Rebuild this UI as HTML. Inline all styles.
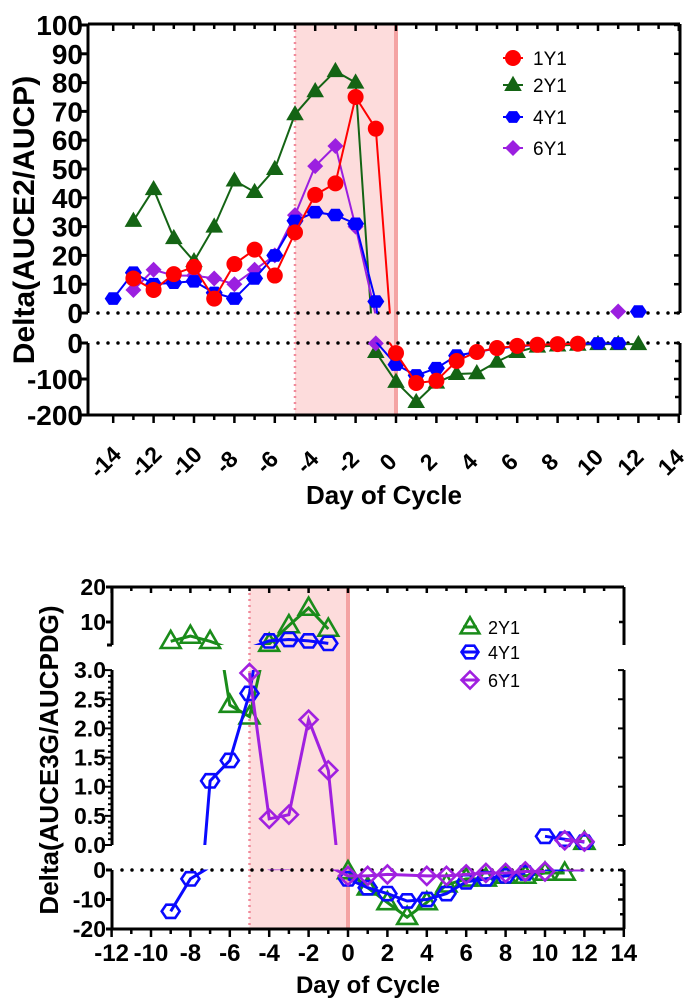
<!DOCTYPE html>
<html><head><meta charset="utf-8"><style>
html,body{margin:0;padding:0;background:#fff;overflow:hidden;width:693px;height:1004px;}
svg{display:block;font-family:"Liberation Sans",Arial,sans-serif;}
</style></head><body>
<svg id="chart" width="693" height="1004" viewBox="0 0 693 1004" xmlns="http://www.w3.org/2000/svg" overflow="hidden">
<defs>
<clipPath id="cTopU"><rect x="88" y="18" width="592" height="295.5"/></clipPath>
<clipPath id="cTopL"><rect x="88" y="342.5" width="592" height="80"/></clipPath>
<clipPath id="cBotT"><rect x="112" y="580" width="512" height="65"/></clipPath>
<clipPath id="cBotM"><rect x="112" y="670" width="512" height="175"/></clipPath>
<clipPath id="cBotL"><rect x="112" y="869.5" width="512" height="65"/></clipPath>
</defs>
<g id="g"></g>
</svg>
<script>
// ---------- top chart data (null = line break) ----------
const topDays1 = [-13,-12,-11,-10,-9,-8,-7,-6,-5,-4,-3,-2,-1,0,1,2,3,4,5,6,7,8,9];
const topVals1 = [12,8,13.5,16,5,17,22,13,28,41,45,75,64,-28,-111,-105,-50,-25,-14,-8,-5,-3,-2];
const topDays2 = [-13,-12,-11,-10,-9,-8,-7,-6,-5,-4,-3,-2,-1,0,1,2,3,4,5,6,7,8,9,10,11,12];
const topVals2 = [32,43,26,18,30,46,42,50,69,77,84,80,-25,-108,-164,-110,-86,-84,-52,-25,-10,-7,-5,-3,-3,-3];
const topDays4 = [-14,-13,-12,-11,-10,-9,-8,-7,-6,-5,-4,-3,-2,-1,0,1,2,3,4,5,6,7,8,9,10,11,11.5,12];
const topVals4 = [5,14,10,10.5,11,7,5,12,20,32,35,34,31,4,-60,-90,-70,-35,-25,-15,-10,-5,-3,-2,-1,-1,null,0.5];
const topDays6 = [-13,-12,-11,-10,-9,-8,-7,-6,-5,-4,-3,-2,-1,0.5,11];
const topVals6 = [8,15,13,13,12,10,15,20,34,51,58,30,-1,null,0.5];
const topUpperTicks = [0,10,20,30,40,50,60,70,80,90,100];
const topLowerTicks = [0,-100,-200];
const topXTicks = [-14,-12,-10,-8,-6,-4,-2,0,2,4,6,8,10,12,14];
// ---------- bottom chart data (null = line break) ----------
const botDays2 = [-9,-8,-7,-6,-5,-4,-3,-2,-1,-0.5,0,1,2,3,4,5,6,7,8,9,10,11,11.5,12];
const botVals2 = [4.5,6,4.5,2.4,2.2,3.7,9,14,8,null,-0.5,-6,-11,-16,-11,-5,-3,-3,-2,-2,-1,-1,null,0.05];
const botDays4 = [-9,-8,-7,-6,-5,-4,-3,-2,-1,-0.5,0,1,2,3,4,5,6,7,8,9,9.5,10,11,12];
const botVals4 = [-14,-3,1.1,1.45,2.6,4.6,5,4.6,3.9,null,-3,-6,-8,-10.5,-10,-8,-4,-3,-2,-1,null,0.15,0.1,0.05];
const botDays6 = [-5,-4,-3,-2,-1,0,1,2,4,5,6,7,8,9,10,10.5,11,12];
const botVals6 = [2.95,0.45,0.52,2.15,1.28,-2,-2,-1.5,-2,-2,-1.5,-1,-1,-0.5,-0.5,null,0.08,0.06];
const botTopTicks = [20,10];
const botMidTicks = [0,0.5,1,1.5,2,2.5,3];
const botLowTicks = [0,-10,-20];
const botXTicks = [-12,-10,-8,-6,-4,-2,0,2,4,6,8,10,12,14];

const NS='http://www.w3.org/2000/svg';
const root=document.getElementById('g');
function mk(tag,attrs,parent){const e=document.createElementNS(NS,tag);for(const k in attrs)e.setAttribute(k,attrs[k]);(parent||root).appendChild(e);return e;}
function txt(s,attrs,parent){const e=mk('text',attrs,parent);e.textContent=s;return e;}

const TX=d=>396+d*20.2;
const TYU=v=>313-v*2.88;
const TYL=v=>343-v*0.36;
const tL=88,tR=680;

let e=mk('rect',{x:TX(-5),y:24,width:TX(0)-TX(-5),height:391,fill:'#fddcdc'});

e=mk('line',{x1:TX(-5),y1:24,x2:TX(-5),y2:415,stroke:'#f08a9a','stroke-width':2.5,'stroke-dasharray':'2,4'});

e=mk('line',{x1:TX(0),y1:24,x2:TX(0),y2:415,stroke:'#f4a3a3','stroke-width':4});


function line(x1,y1,x2,y2,w,name){const l=mk('line',{x1,y1,x2,y2,stroke:'#000','stroke-width':w||3});return l;}
line(tL,24,tR,24,3,'top-frame-top');
line(tL,24,tL,313,3,'top-y-axis-upper');
line(tR,24,tR,313,3,'top-right-axis-upper');
line(tL,343,tL,415,3,'top-y-axis-lower');
line(tR,343,tR,415,3,'top-right-axis-lower');
line(tL,415,tR,415,3,'top-x-axis');
[313,343].forEach((y,i)=>{const l=mk('line',{x1:tL+10,y1:y,x2:tR,y2:y,stroke:'#000','stroke-width':3.5,'stroke-dasharray':'0,10','stroke-linecap':'round'});
});
for(let d=-14;d<=14;d++){const big=d%2===0;
 line(TX(d),415,TX(d),415+(big?8:5),2.5,'top-x-tick');
 line(TX(d),24,TX(d),24+(big?7:5),2.5,'top-top-tick');}
topXTicks.forEach(d=>{const t=txt(String(d),{x:0,y:0,'font-size':23,'font-weight':'bold','text-anchor':'middle','dominant-baseline':'central',transform:`translate(${TX(d)-8},${462}) rotate(-45)`});
 });
topUpperTicks.forEach(v=>{line(tL-7,TYU(v),tL,TYU(v),3,'top-y-tick');line(tR-6,TYU(v),tR,TYU(v),2.5,'top-right-tick');
 const t=txt(String(v),{x:83,y:TYU(v)+10,'font-size':28,'font-weight':'bold','text-anchor':'end'});});
topLowerTicks.forEach(v=>{line(tL-7,TYL(v),tL,TYL(v),3,'top-y-tick');line(tR-6,TYL(v),tR,TYL(v),2.5,'top-right-tick');
 const t=txt(String(v),{x:83,y:TYL(v)+10,'font-size':28,'font-weight':'bold','text-anchor':'end'});});
[-50,-150].forEach(v=>line(tR-5,TYL(v),tR,TYL(v),2.5,'top-right-minor-tick'));
e=txt('Delta(AUCE2/AUCP)',{x:0,y:0,'font-size':30,'font-weight':'bold','text-anchor':'middle',transform:'translate(34,220) rotate(-90)'});

e=txt('Day of Cycle',{x:384,y:504,'font-size':26,'font-weight':'bold','text-anchor':'middle'});


function marker(shape,x,y,col,r,open,parent){
 let el;
 const sw=open?2.6:0, fill=open?'none':col;
 if(shape==='circle') el=mk('circle',{cx:x,cy:y,r:r},parent);
 else if(shape==='tri') el=mk('polygon',{points:`${x},${y-r*1.15} ${x+r*1.1},${y+r*0.75} ${x-r*1.1},${y+r*0.75}`},parent);
 else if(shape==='hex'){let p=[];for(let i=0;i<6;i++){const a=Math.PI/3*i;p.push((x+r*Math.cos(a)).toFixed(1)+','+(y+r*0.85*Math.sin(a)).toFixed(1));}el=mk('polygon',{points:p.join(' ')},parent);}
 else el=mk('polygon',{points:`${x},${y-r} ${x+r},${y} ${x},${y+r} ${x-r},${y}`},parent);
 el.setAttribute('fill',fill);el.setAttribute('stroke',col);el.setAttribute('stroke-width',sw||0);
 return el;
}
function series(days,vals,panels,col,shape,r,open,lw,name){
 panels.forEach(p=>{
  const g=mk('g',{'clip-path':`url(#${p.clip})`});
  
  
  let runs=[],cur=[];
  days.forEach((d,i)=>{const v=vals[i];if(v===null){if(cur.length)runs.push(cur);cur=[];}else cur.push(p.X(d).toFixed(1)+','+p.Y(v).toFixed(1));});
  if(cur.length)runs.push(cur);
  runs.forEach(rn=>{if(rn.length<2)return;const pl=mk('polyline',{points:rn.join(' '),fill:'none',stroke:col,'stroke-width':lw},g);
   
   });
  const mg=mk('g',{});
  
  
  days.forEach((d,i)=>{const v=vals[i];if(v!==null&&v>=p.min&&v<=p.max){const m=marker(shape,p.X(d),p.Y(v),col,r,open,mg);
   
   }});
 });
}
const topPanels=[{id:'upper',clip:'cTopU',X:TX,Y:TYU,min:0,max:100},{id:'lower',clip:'cTopL',X:TX,Y:TYL,min:-200,max:0}];
const cRed='#ff0000',cGreen='#146414',cBlue='#0000ff',cPurple='#9b1fe0';
series(topDays2,topVals2,topPanels,cGreen,'tri',8,false,2,'series-2y1');
series(topDays6,topVals6,topPanels,cPurple,'dia',8,false,2,'series-6y1');
series(topDays4,topVals4,topPanels,cBlue,'hex',8.5,false,2,'series-4y1');
series(topDays1,topVals1,topPanels,cRed,'circle',8,false,2,'series-1y1');

const legTop=[['1Y1',cRed,'circle',58],['2Y1',cGreen,'tri',85],['4Y1',cBlue,'hex',117],['6Y1',cPurple,'dia',148]];
legTop.forEach(([lab,col,sh,y])=>{const g=mk('g',{});
 
 
 mk('line',{x1:503,y1:y,x2:523,y2:y,stroke:col,'stroke-width':2},g);
 marker(sh,513,y,col,8,false,g);
 txt(lab,{x:533,y:y+7,'font-size':19},g);});

const BX=d=>348+d*19.7;
const BYT=v=>587+(20-v)*3.5;
const BYM=v=>845-v*58.3;
const BYL=v=>870-v*2.95;
const bL=112,bR=624;
e=mk('rect',{x:BX(-5),y:587,width:BX(0)-BX(-5),height:342,fill:'#fddcdc'});

e=mk('line',{x1:BX(-5),y1:587,x2:BX(-5),y2:929,stroke:'#f08a9a','stroke-width':2.5,'stroke-dasharray':'2,4'});

e=mk('line',{x1:BX(0),y1:587,x2:BX(0),y2:929,stroke:'#f4a3a3','stroke-width':4});

line(bL,587,bR,587,3,'bottom-frame-top');
line(bL,587,bL,645,3,'bottom-y-axis-top');
line(bR,587,bR,645,3,'bottom-right-axis-top');
line(bL,670,bL,845,3,'bottom-y-axis-mid');
line(bR,670,bR,845,3,'bottom-right-axis-mid');
line(bL,870,bL,929,3,'bottom-y-axis-lower');
line(bR,870,bR,929,3,'bottom-right-axis-lower');
line(bL,929,bR,929,3,'bottom-x-axis');
e=mk('line',{x1:bL+10,y1:870,x2:bR,y2:870,stroke:'#000','stroke-width':3.5,'stroke-dasharray':'0,10','stroke-linecap':'round'});

for(let d=-12;d<=14;d++){const big=d%2===0;line(BX(d),929,BX(d),929+(big?8:5),2.5,'bottom-x-tick');line(BX(d),587,BX(d),587+(big?6:4),2.5,'bottom-top-tick');}
botXTicks.forEach(d=>{const t=txt(String(d),{x:BX(d),y:961,'font-size':24,'font-weight':'bold','text-anchor':'middle'});});
function ylab(v,y,s){const t=txt(s,{x:106,y:y+8,'font-size':23,'font-weight':'bold','text-anchor':'end'});}
botTopTicks.forEach(v=>{line(bL-6,BYT(v),bL,BYT(v),3,'bottom-y-tick');line(bR-5,BYT(v),bR,BYT(v),2.5,'bottom-right-tick');ylab(v,BYT(v),String(v));});
line(bL-5,645,bL,645,3,'bottom-y-tick');
for(let i=0;i<=30;i++){const v=i/10,y=BYM(v),big=i%5===0;line(bL-(big?7:4),y,bL,y,2,'bottom-y-minor-tick');if(big)line(bR-6,y,bR,y,2,'bottom-right-tick');}
botMidTicks.forEach(v=>ylab(v,BYM(v),v.toFixed(1)));
botLowTicks.forEach(v=>{line(bL-6,BYL(v),bL,BYL(v),3,'bottom-y-tick');line(bR-6,BYL(v),bR,BYL(v),2.5,'bottom-right-tick');ylab(v,BYL(v),String(v));});
[-5,-15].forEach(v=>line(bR-4,BYL(v),bR,BYL(v),2.5,'bottom-right-minor-tick'));
e=txt('Delta(AUCE3G/AUCPDG)',{x:0,y:0,'font-size':26,'font-weight':'bold','text-anchor':'middle',transform:'translate(58,760) rotate(-90)'});

e=txt('Day of Cycle',{x:368,y:993,'font-size':24,'font-weight':'bold','text-anchor':'middle'});


const botPanels=[{id:'top',clip:'cBotT',X:BX,Y:BYT,min:3.4,max:20},{id:'mid',clip:'cBotM',X:BX,Y:BYM,min:0,max:3},{id:'low',clip:'cBotL',X:BX,Y:BYL,min:-20,max:0}];
const bGreen='#1a8c1a',bBlue='#0a0aff',bPurple='#a020e0';
series(botDays2,botVals2,botPanels,bGreen,'tri',9,true,3,'bottom-series-2y1');
series(botDays4,botVals4,botPanels,bBlue,'hex',9,true,3,'bottom-series-4y1');
series(botDays6,botVals6,botPanels,bPurple,'dia',9,true,3,'bottom-series-6y1');

const legBot=[['2Y1',bGreen,'tri',627],['4Y1',bBlue,'hex',652],['6Y1',bPurple,'dia',680]];
legBot.forEach(([lab,col,sh,y])=>{const g=mk('g',{});
 
 
 mk('line',{x1:463,y1:y,x2:477,y2:y,stroke:col,'stroke-width':3},g);
 marker(sh,470,y,col,8.5,true,g);
 txt(lab,{x:488,y:y+7,'font-size':18},g);});
</script>
</body></html>
